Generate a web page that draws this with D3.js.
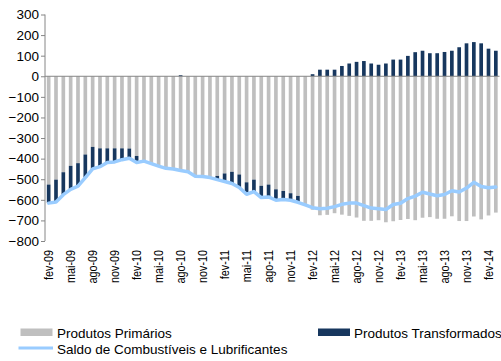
<!DOCTYPE html>
<html>
<head>
<meta charset="utf-8">
<script src="https://cdn.jsdelivr.net/npm/d3@7"></script>
<style>
  html, body { margin: 0; padding: 0; background: #fff; }
  svg { display: block; font-family: "Liberation Sans", Arial, sans-serif; }
</style>
</head>
<body>
<svg id="chart" width="501" height="361"></svg>
<script>
// Monthly trade balance of fuels and lubricants (US$ million)
const months = [
  "fev-09","mar-09","abr-09","mai-09","jun-09","jul-09","ago-09","set-09","out-09","nov-09","dez-09","jan-10",
  "fev-10","mar-10","abr-10","mai-10","jun-10","jul-10","ago-10","set-10","out-10","nov-10","dez-10","jan-11",
  "fev-11","mar-11","abr-11","mai-11","jun-11","jul-11","ago-11","set-11","out-11","nov-11","dez-11","jan-12",
  "fev-12","mar-12","abr-12","mai-12","jun-12","jul-12","ago-12","set-12","out-12","nov-12","dez-12","jan-13",
  "fev-13","mar-13","abr-13","mai-13","jun-13","jul-13","ago-13","set-13","out-13","nov-13","dez-13","jan-14",
  "fev-14","mar-14"
];

const primarios = [
  -526, -502, -466, -435, -422, -380, -343, -350, -350, -350, -350, -351,
  -387, -412, -424, -436, -447, -450, -463, -464, -485, -487, -492, -484,
  -472, -464, -477, -515, -502, -532, -526, -549, -557, -568, -581, -625,
  -648, -675, -673, -665, -672, -678, -686, -702, -702, -699, -709, -704,
  -698, -693, -699, -687, -684, -692, -692, -680, -703, -703, -681, -695,
  -676, -662
];

const transformados = [
  -90, -109, -109, -114, -112, -112, -107, -89, -69, -66, -55, -47,
  -32, 0, 0, 0, 0, 0, 5, 0, 0, 0, 0, -18,
  -39, -57, -63, -58, -58, -57, -60, -53, -42, -34, -31, 0,
  10, 32, 32, 32, 50, 62, 70, 74, 62, 56, 62, 81,
  81, 99, 117, 124, 112, 112, 118, 124, 141, 160, 166, 160,
  134, 124
];

const saldo = [
  -616, -611, -575, -549, -534, -492, -450, -439, -419, -416, -405, -398,
  -419, -412, -424, -436, -447, -450, -458, -464, -485, -487, -492, -502,
  -511, -521, -540, -573, -560, -589, -586, -602, -599, -602, -612, -625,
  -638, -643, -641, -633, -622, -616, -616, -628, -640, -643, -647, -623,
  -617, -594, -582, -563, -572, -580, -574, -556, -562, -543, -515, -535,
  -541, -538
];

const yTicks = [300, 200, 100, 0, -100, -200, -300, -400, -500, -600, -700, -800];

const seriesNames = ["Produtos Primários", "Produtos Transformados", "Saldo de Combustíveis e Lubrificantes"];
const colors = { prim: "#BFBFBF", transf: "#17375E", saldo: "#99CCFF" };

const svg = d3.select("#chart");
const plotLeft = 45, plotRight = 499.5, plotTop = 14.5, plotBottom = 241;

const x = d3.scaleBand().domain(months).range([plotLeft, plotRight]).paddingInner(0.5).paddingOuter(0.25);
const y = d3.scaleLinear().domain([-800, 300]).range([plotBottom, plotTop]);

// Stacked bars, negatives stacked downward from zero
const rows = months.map((m, i) => ({ month: m, prim: primarios[i], transf: transformados[i] }));
const stacked = d3.stack().keys(["prim", "transf"]).offset(d3.stackOffsetDiverging)(rows);

svg.append("g").selectAll("g")
  .data(stacked)
  .join("g")
  .attr("fill", d => colors[d.key])
  .selectAll("rect")
  .data(d => d)
  .join("rect")
  .attr("x", d => x(d.data.month))
  .attr("width", x.bandwidth())
  .attr("y", d => y(Math.max(d[0], d[1])))
  .attr("height", d => Math.abs(y(d[0]) - y(d[1])));

// Zero line
svg.append("line")
  .attr("x1", plotLeft).attr("x2", plotRight)
  .attr("y1", y(0)).attr("y2", y(0))
  .attr("stroke", "#868686").attr("stroke-width", 1);

// Balance line
const line = d3.line()
  .x((d, i) => x(months[i]) + x.bandwidth() / 2)
  .y(d => y(d));
svg.append("path")
  .datum(saldo)
  .attr("d", line)
  .attr("fill", "none")
  .attr("stroke", colors.saldo)
  .attr("stroke-width", 3.5)
  .attr("stroke-linejoin", "round")
  .attr("stroke-linecap", "round");

// Y axis
const yAxis = svg.append("g")
  .attr("transform", `translate(${plotLeft},0)`)
  .call(d3.axisLeft(y).tickValues(yTicks).tickSize(4).tickPadding(2).tickFormat(d3.format("d")));
yAxis.select(".domain").attr("stroke", "#868686").attr("d", `M0,${y(300)}V${y(-800)}`);
yAxis.selectAll(".tick line").attr("stroke", "#868686");
yAxis.selectAll(".tick text")
  .attr("fill", "#000")
  .style("font-size", "13.5px")
  .style("font-family", "'Liberation Sans', Arial, sans-serif");

// X labels (every third month), rotated
const xLabels = months.filter((m, i) => i % 3 === 0);
svg.append("g").selectAll("text")
  .data(xLabels)
  .join("text")
  .attr("transform", d => `translate(${x(d) + x.bandwidth() / 2},250) rotate(-90) scale(0.9,1)`)
  .attr("text-anchor", "end")
  .attr("dy", "0.35em")
  .style("font-size", "12px")
  .attr("fill", "#000")
  .text(d => d);

// Legend
const legend = svg.append("g").style("font-size", "13.5px");
legend.append("rect").attr("x", 20.5).attr("y", 328.5).attr("width", 32).attr("height", 7.5).attr("fill", colors.prim);
legend.append("text").attr("x", 57).attr("y", 333).attr("dy", "0.35em").text(seriesNames[0]);
legend.append("rect").attr("x", 318).attr("y", 328.5).attr("width", 32).attr("height", 7.5).attr("fill", colors.transf);
legend.append("text").attr("x", 354).attr("y", 333).attr("dy", "0.35em").text(seriesNames[1]);
legend.append("line").attr("x1", 18.5).attr("x2", 53).attr("y1", 348).attr("y2", 348)
  .attr("stroke", colors.saldo).attr("stroke-width", 3);
legend.append("text").attr("x", 57).attr("y", 349.5).attr("dy", "0.35em").text(seriesNames[2]);
</script>
</body>
</html>
